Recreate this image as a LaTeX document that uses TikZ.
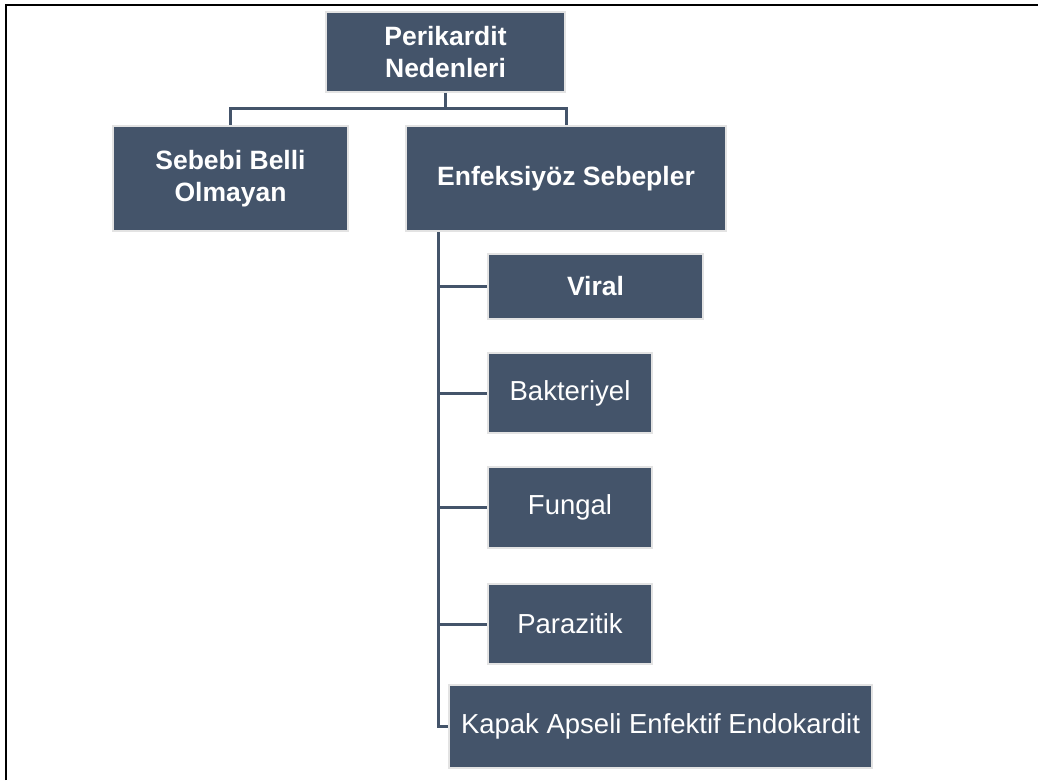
\documentclass[tikz,border=0pt]{standalone}
\usepackage{fontspec}
\setmainfont{Liberation Sans}
\definecolor{boxfill}{HTML}{44546A}
\definecolor{boxedge}{HTML}{E3E3E3}
\begin{document}
\begin{tikzpicture}[x=1pt,y=-1pt,
  box/.style={fill=boxfill,draw=boxedge,line width=1.5pt,text=white,
    font=\fontsize{27.5}{32}\selectfont,align=center,inner sep=0pt},
  bbox/.style={box,font=\fontsize{26.5}{32}\selectfont\bfseries},
  conn/.style={draw=boxfill,line width=3pt}]
\useasboundingbox (0,0) rectangle (1038,780);
\draw[line width=2pt] (6,780) -- (6,5) -- (1038,5);
\node[bbox,minimum width=239,minimum height=80] (top) at (445.5,52) {Perikardit\\Nedenleri};
\node[bbox,minimum width=235,minimum height=105] (seb) at (230.5,178.5) {Sebebi Belli\\Olmayan};
\node[bbox,minimum width=320,minimum height=105] (enf) at (566,178.5) {Enfeksiyöz Sebepler};
\node[bbox,minimum width=215,minimum height=65] (vir) at (595.5,286.5) {Viral};
\node[box,minimum width=164,minimum height=80] (bak) at (570,393) {Bakteriyel};
\node[box,minimum width=164,minimum height=81] (fun) at (570,507.5) {Fungal};
\node[box,minimum width=164,minimum height=80] (par) at (570,624) {Parazitik};
\node[box,minimum width=423,minimum height=83] (kap) at (660.5,726.5) {Kapak Apseli Enfektif Endokardit};
\coordinate (mid) at (445.5,108);
\coordinate (sp) at (438,232);
\draw[conn] (top.south) -- (mid);
\draw[conn] (mid) -| (seb.north);
\draw[conn] (mid) -| (enf.north);
\draw[conn] (sp) |- (kap.west);
\draw[conn] (sp |- vir.west) -- (vir.west);
\draw[conn] (sp |- bak.west) -- (bak.west);
\draw[conn] (sp |- fun.west) -- (fun.west);
\draw[conn] (sp |- par.west) -- (par.west);
\end{tikzpicture}
\end{document}
